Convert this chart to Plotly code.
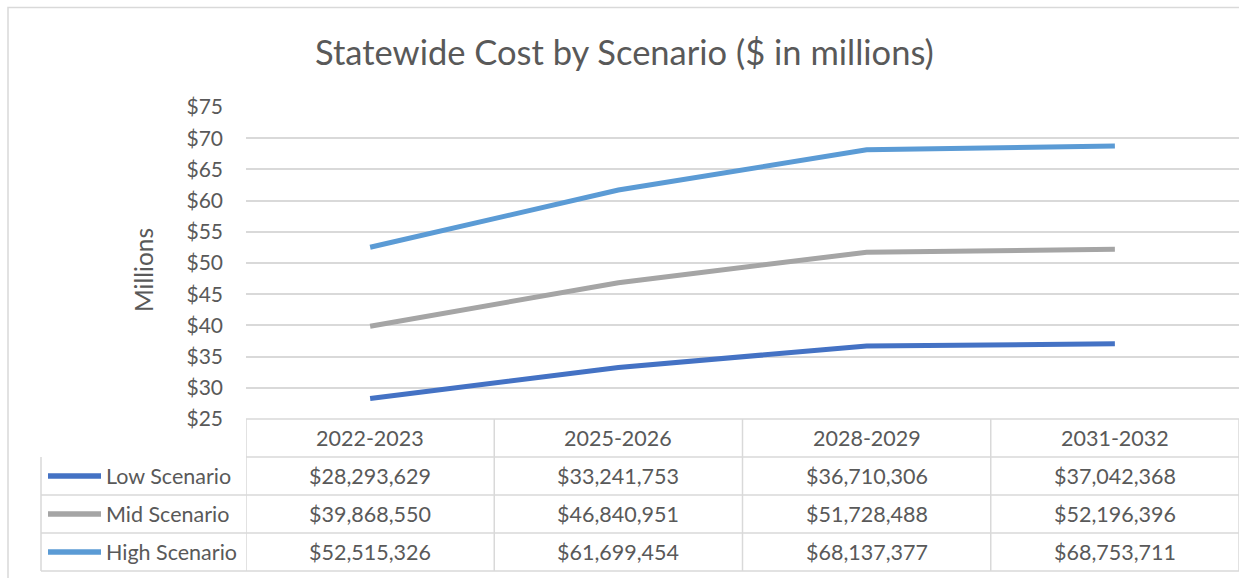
import plotly.graph_objects as go

# Chart data (dollars)
periods = ["2022-2023", "2025-2026", "2028-2029", "2031-2032"]
scenarios = ["Low Scenario", "Mid Scenario", "High Scenario"]
low_cost = [28293629, 33241753, 36710306, 37042368]
mid_cost = [39868550, 46840951, 51728488, 52196396]
high_cost = [52515326, 61699454, 68137377, 68753711]
y_ticks = [25, 30, 35, 40, 45, 50, 55, 60, 65, 70, 75]

series_values = [low_cost, mid_cost, high_cost]
series_colors = ["#4472C4", "#A5A5A5", "#5B9BD5"]

FONT = "Lato"
TEXT = "#595959"
GRID = "#D9D9D9"
TABLE_SIZE = 21.5

WIDTH, HEIGHT = 1239, 578
PLOT_L, PLOT_R, PLOT_T, PLOT_B = 246, 1239, 107, 419


def px_x(x):
    return (x - PLOT_L) / (PLOT_R - PLOT_L)


def px_y(y):
    return (PLOT_B - y) / (PLOT_B - PLOT_T)


fig = go.Figure()
xs = list(range(len(periods)))
for name, vals, color in zip(scenarios, series_values, series_colors):
    fig.add_trace(go.Scatter(
        x=xs, y=[v / 1e6 for v in vals], name=name, mode="lines",
        line=dict(color=color, width=5), showlegend=False,
    ))

shapes = []
annotations = []

# outer chart frame
shapes.append(dict(type="rect", xref="paper", yref="paper",
                   x0=px_x(8), x1=px_x(1250), y0=px_y(590), y1=px_y(7.5),
                   line=dict(color=GRID, width=1.5), fillcolor="rgba(0,0,0,0)"))

# data table grid
row_edges = [419, 457, 495, 533, 571]
line_style = dict(color=GRID, width=1.5)
# header row horizontal lines (value columns only)
for y in row_edges[:2]:
    shapes.append(dict(type="line", xref="paper", yref="paper",
                       x0=0, x1=px_x(1250), y0=px_y(y), y1=px_y(y), line=line_style))
for y in row_edges[2:]:
    shapes.append(dict(type="line", xref="paper", yref="paper",
                       x0=px_x(41), x1=px_x(1250), y0=px_y(y), y1=px_y(y), line=line_style))
# left legend column frame
shapes.append(dict(type="line", xref="paper", yref="paper",
                   x0=px_x(41), x1=px_x(41), y0=px_y(457), y1=px_y(571), line=line_style))
# column dividers
for i in range(len(periods) + 1):
    shapes.append(dict(type="line", xref="x", yref="paper",
                       x0=i - 0.5, x1=i - 0.5, y0=px_y(419), y1=px_y(571), line=line_style))

# header labels
for i, p in enumerate(periods):
    annotations.append(dict(x=i, xref="x", y=px_y(438), yref="paper", text=p,
                            showarrow=False, xanchor="center", yanchor="middle",
                            font=dict(family=FONT, size=TABLE_SIZE, color=TEXT)))

# rows: legend key, name, values
for r, (name, vals, color) in enumerate(zip(scenarios, series_values, series_colors)):
    yc = (row_edges[r + 1] + row_edges[r + 2]) / 2
    shapes.append(dict(type="line", xref="paper", yref="paper",
                       x0=px_x(48), x1=px_x(101), y0=px_y(yc), y1=px_y(yc),
                       line=dict(color=color, width=5.5)))
    annotations.append(dict(x=px_x(104), xref="paper", y=px_y(yc), yref="paper",
                            text=name, showarrow=False, xanchor="left", yanchor="middle",
                            font=dict(family=FONT, size=TABLE_SIZE, color=TEXT)))
    for i, v in enumerate(vals):
        annotations.append(dict(x=i, xref="x", y=px_y(yc), yref="paper",
                                text=f"${v:,.0f}", showarrow=False,
                                xanchor="center", yanchor="middle",
                                font=dict(family=FONT, size=TABLE_SIZE, color=TEXT)))

# axis title
annotations.append(dict(x=px_x(143), xref="paper", y=px_y(270), yref="paper",
                        text="Millions", textangle=-90, showarrow=False,
                        xanchor="center", yanchor="middle",
                        font=dict(family=FONT, size=24.5, color=TEXT)))

# chart title
annotations.append(dict(x=px_x(624), xref="paper", y=px_y(52), yref="paper",
                        text="Statewide Cost by Scenario ($ in millions)", showarrow=False,
                        xanchor="center", yanchor="middle",
                        font=dict(family=FONT, size=34.5, color=TEXT)))

fig.update_layout(
    width=WIDTH, height=HEIGHT,
    margin=dict(l=PLOT_L, r=WIDTH - PLOT_R, t=PLOT_T, b=HEIGHT - PLOT_B, pad=0),
    paper_bgcolor="white", plot_bgcolor="white",
    shapes=shapes, annotations=annotations,
    xaxis=dict(range=[-0.5, len(periods) - 0.5], showticklabels=False,
               showgrid=False, zeroline=False, showline=False, fixedrange=True),
    yaxis=dict(range=[y_ticks[0], y_ticks[-1]], tickvals=y_ticks,
               ticktext=[f"${t}" for t in y_ticks],
               showgrid=True, gridcolor=GRID, gridwidth=1.5, zeroline=False,
               showline=False, ticks="", ticklabelstandoff=22,
               tickfont=dict(family=FONT, size=21, color=TEXT), fixedrange=True),
)

fig.write_html("out.html")
